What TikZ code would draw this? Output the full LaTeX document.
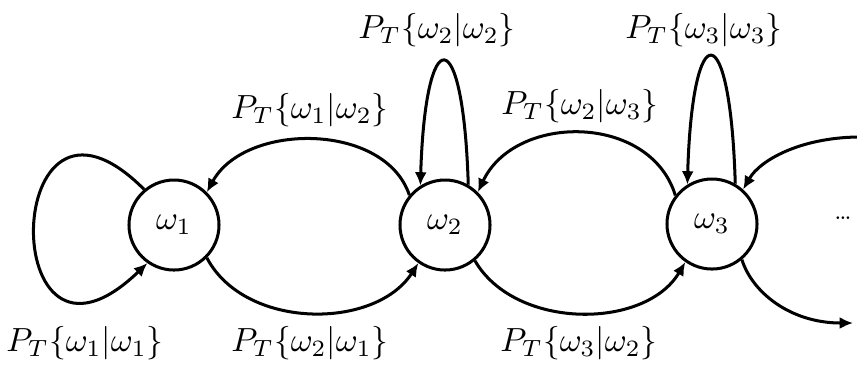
\documentclass[tikz,border=0pt]{standalone}
\usepackage{amsmath}
\usetikzlibrary{arrows.meta,positioning}
\tikzset{
  state/.style={circle,draw=black,line width=0.9pt,minimum size=0.945cm,inner sep=0pt,font=\normalsize},
  ar/.style={-{Latex[length=4pt,width=3.6pt]},draw=black,line width=0.9pt},
  lbl/.style={inner sep=0pt,font=\normalsize},
}

\begin{document}
\begin{tikzpicture}[x=0.0105cm,y=-0.0105cm]
    \useasboundingbox (0,0) rectangle (857,369);
    \node[state] (w1) at (174,225) {$\omega_1$};
    \node[state] (w2) at (445,225) {$\omega_2$};
    \node[state] (w3) at (712,224) {$\omega_3$};
    \node[inner sep=0pt,font=\scriptsize] (dots) at (843,218) {\ldots};
    \coordinate (inR) at (857,137);
    \coordinate (outR) at (853,323);
    % transition labels
    \node[lbl] (l11) at (85,343) {$P_T\{\omega_1|\omega_1\}$};
    \node[lbl] (l21) at (310,343) {$P_T\{\omega_2|\omega_1\}$};
    \node[lbl] (l32) at (579,343) {$P_T\{\omega_3|\omega_2\}$};
    \node[lbl] (l12) at (310,110) {$P_T\{\omega_1|\omega_2\}$};
    \node[lbl] (l22) at (437,30) {$P_T\{\omega_2|\omega_2\}$};
    \node[lbl] (l23) at (580,106) {$P_T\{\omega_2|\omega_3\}$};
    \node[lbl] (l33) at (704,30) {$P_T\{\omega_3|\omega_3\}$};
    % self loops
    \draw[ar] (w1.130) .. controls (0,45) and (-5,410) .. (w1.-125);
    \draw[ar] (w2.60) .. controls +(-5,-165) and +(5,-165) .. (w2.122);
    \draw[ar] (w3.60) .. controls +(-5,-170) and +(5,-170) .. (w3.122);
    % between states
    \draw[ar] (w2.140) .. controls (385,122) and (245,122) .. (w1.45);
    \draw[ar] (w1.-45) .. controls (245,330) and (375,330) .. (w2.-125);
    \draw[ar] (w3.142) .. controls (650,113) and (515,113) .. (w2.45);
    \draw[ar] (w2.-50) .. controls (515,330) and (645,330) .. (w3.-125);
    % to and from the rest of the chain
    \draw[ar] (inR) .. controls (800,138) and (760,160) .. (w3.48);
    \draw[ar] (w3.-50) .. controls (752,292) and (790,323) .. (outR);
\end{tikzpicture}
\end{document}
